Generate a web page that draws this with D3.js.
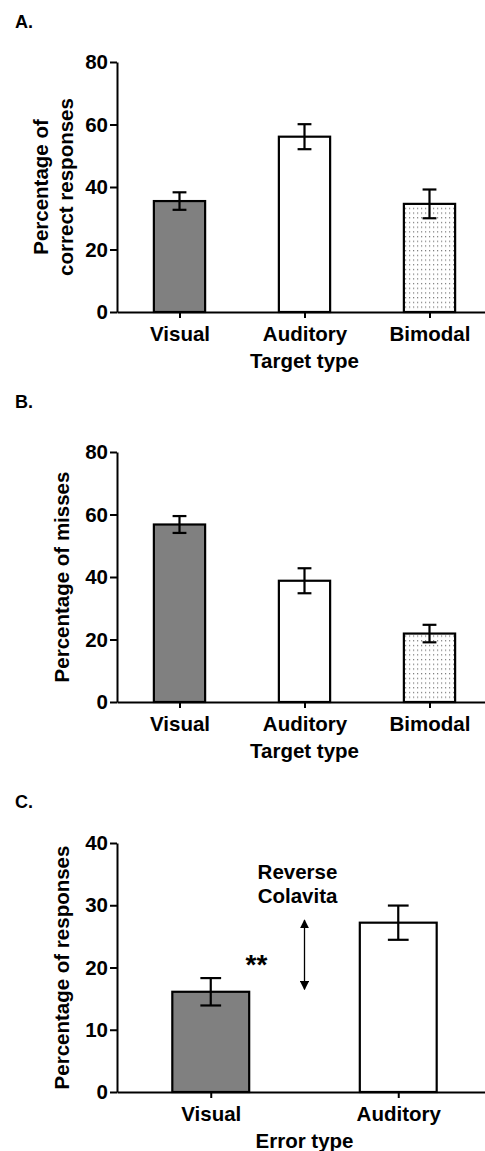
<!DOCTYPE html>
<html>
<head>
<meta charset="utf-8">
<script src="https://d3js.org/d3.v7.min.js"></script>
<style>
  body { margin: 0; background: #fff; }
  text { font-family: Arial, "Liberation Sans", sans-serif; font-weight: bold; fill: #000; }
</style>
</head>
<body>
<div id="chart"></div>
<script>
  // data
  const targetTypes = ["Visual", "Auditory", "Bimodal"];
  const errorTypes = ["Visual", "Auditory"];

  const correctMean = [35.5, 56.1, 34.6];
  const correctErr = [2.8, 4.0, 4.6];

  const missesMean = [56.8, 38.8, 21.9];
  const missesErr = [2.7, 4.0, 2.8];

  const errorMean = [16.1, 27.2];
  const errorErr = [2.2, 2.75];

  const ticksAB = [0, 20, 40, 60, 80];
  const ticksC = [0, 10, 20, 30, 40];

  const arrowRange = [16.5, 27.6];

  const W = 485, H = 1151;

  const svg = d3.select("#chart")
    .append("svg")
      .attr("width", W)
      .attr("height", H);

  // dotted pattern for bimodal bars
  const pat = svg.append("defs").append("pattern")
    .attr("id", "dots")
    .attr("patternUnits", "userSpaceOnUse")
    .attr("width", 4)
    .attr("height", 4.7);
  pat.append("rect").attr("width", 4).attr("height", 4.7).attr("fill", "#fff");
  pat.append("rect").attr("x", 1).attr("y", 1).attr("width", 1.2).attr("height", 1.2).attr("fill", "#777");

  const fills = { Visual: "#808080", Auditory: "#fff", Bimodal: "url(#dots)" };

  function panel(opts) {
    const x = d3.scalePoint()
      .domain(opts.cats)
      .range([117, 492])
      .padding(0.5);

    const y = d3.scaleLinear()
      .domain([0, opts.yMax])
      .range([opts.bottom, opts.top]);

    const barW = x.step() * 0.41;
    const capW = barW * 0.27;
    const g = svg.append("g");

    // panel letter
    g.append("text")
      .attr("x", 15)
      .attr("y", opts.top - opts.letterGap)
      .attr("font-size", 18)
      .text(opts.letter);

    // bars
    g.selectAll(".bar")
      .data(opts.cats)
      .join("rect")
        .attr("x", d => x(d) - barW / 2)
        .attr("y", (d, i) => y(opts.mean[i]))
        .attr("width", barW)
        .attr("height", (d, i) => y(0) - y(opts.mean[i]))
        .attr("fill", d => fills[d])
        .attr("stroke", "#000")
        .attr("stroke-width", 2.2);

    // error bars
    const eb = g.selectAll(".err")
      .data(opts.cats)
      .join("g");
    eb.append("line")
      .attr("x1", d => x(d)).attr("x2", d => x(d))
      .attr("y1", (d, i) => y(opts.mean[i] - opts.err[i]))
      .attr("y2", (d, i) => y(opts.mean[i] + opts.err[i]));
    eb.append("line")
      .attr("x1", d => x(d) - capW / 2).attr("x2", d => x(d) + capW / 2)
      .attr("y1", (d, i) => y(opts.mean[i] - opts.err[i]))
      .attr("y2", (d, i) => y(opts.mean[i] - opts.err[i]));
    eb.append("line")
      .attr("x1", d => x(d) - capW / 2).attr("x2", d => x(d) + capW / 2)
      .attr("y1", (d, i) => y(opts.mean[i] + opts.err[i]))
      .attr("y2", (d, i) => y(opts.mean[i] + opts.err[i]));
    eb.selectAll("line").attr("stroke", "#000").attr("stroke-width", 2.2);

    // x axis
    const ax = g.append("g")
      .attr("transform", `translate(0,${opts.bottom})`)
      .call(d3.axisBottom(x).tickSize(6).tickSizeOuter(0).tickPadding(8));

    // y axis
    const ay = g.append("g")
      .attr("transform", "translate(117,0)")
      .call(d3.axisLeft(y).tickValues(opts.ticks).tickSize(7).tickSizeOuter(0).tickPadding(2));

    [ax, ay].forEach(a => {
      a.selectAll("path, line").attr("stroke", "#000").attr("stroke-width", 2);
      a.selectAll("text")
        .attr("font-size", 20.5)
        .attr("font-family", "Arial, 'Liberation Sans', sans-serif")
        .attr("font-weight", "bold")
        .attr("fill", "#000");
    });

    // x title
    g.append("text")
      .attr("x", 304.5)
      .attr("y", opts.bottom + 56)
      .attr("text-anchor", "middle")
      .attr("font-size", 20.5)
      .text(opts.xTitle);

    // y title
    const yc = (opts.top + opts.bottom) / 2;
    opts.yTitle.forEach((t, i) => {
      const bx = opts.yTitleX[i];
      g.append("text")
        .attr("transform", `translate(${bx},${yc}) rotate(-90)`)
        .attr("text-anchor", "middle")
        .attr("font-size", 20.5)
        .text(t);
    });

    return { x, y, g };
  }

  panel({
    letter: "A.", letterGap: 34,
    cats: targetTypes, mean: correctMean, err: correctErr,
    yMax: 80, ticks: ticksAB, top: 62, bottom: 312,
    xTitle: "Target type",
    yTitle: ["Percentage of", "correct responses"], yTitleX: [48, 73]
  });

  panel({
    letter: "B.", letterGap: 44,
    cats: targetTypes, mean: missesMean, err: missesErr,
    yMax: 80, ticks: ticksAB, top: 452, bottom: 702,
    xTitle: "Target type",
    yTitle: ["Percentage of misses"], yTitleX: [69]
  });

  const c = panel({
    letter: "C.", letterGap: 35,
    cats: errorTypes, mean: errorMean, err: errorErr,
    yMax: 40, ticks: ticksC, top: 843, bottom: 1092,
    xTitle: "Error type",
    yTitle: ["Percentage of responses"], yTitleX: [69]
  });

  // Reverse Colavita annotation
  const ax = (c.x("Visual") + c.x("Auditory")) / 2;
  const marker = svg.select("defs").append("marker")
    .attr("id", "head")
    .attr("viewBox", "0 0 10 10")
    .attr("refX", 9).attr("refY", 5)
    .attr("markerWidth", 7).attr("markerHeight", 7)
    .attr("orient", "auto-start-reverse");
  marker.append("path").attr("d", "M0,0 L10,5 L0,10 z").attr("fill", "#000");

  c.g.append("line")
    .attr("x1", ax).attr("x2", ax)
    .attr("y1", c.y(arrowRange[0]))
    .attr("y2", c.y(arrowRange[1]))
    .attr("stroke", "#000")
    .attr("stroke-width", 1.3)
    .attr("marker-start", "url(#head)")
    .attr("marker-end", "url(#head)");

  c.g.append("text")
    .attr("x", ax - 7)
    .attr("y", c.y(arrowRange[1]) - 41)
    .attr("text-anchor", "middle")
    .attr("font-size", 20.5)
    .text("Reverse");
  c.g.append("text")
    .attr("x", ax - 7)
    .attr("y", c.y(arrowRange[1]) - 17)
    .attr("text-anchor", "middle")
    .attr("font-size", 20.5)
    .text("Colavita");

  c.g.append("text")
    .attr("x", ax - 48)
    .attr("y", c.y(arrowRange[0]) - 15)
    .attr("text-anchor", "middle")
    .attr("font-size", 28)
    .text("**");
</script>
</body>
</html>
